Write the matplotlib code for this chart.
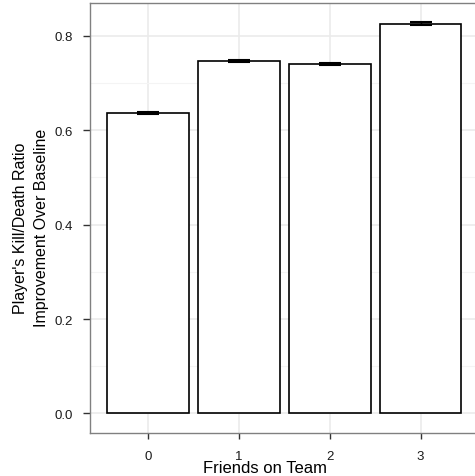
import matplotlib
matplotlib.use("Agg")
import matplotlib.pyplot as plt
import numpy as np

# data
friends = ["0", "1", "2", "3"]
improvement = [0.637, 0.746, 0.739, 0.825]
err = [0.002, 0.002, 0.002, 0.003]

plt.rcParams['font.family'] = ['Liberation Sans', 'DejaVu Sans']

fig = plt.figure(figsize=(4.75, 4.77), dpi=100)
ax = fig.add_axes([0.1895, 0.0901, 0.8125, 0.9015])

x = np.arange(len(friends))
ax.bar(x, improvement, width=0.9, color="white", edgecolor="black", linewidth=1.2, zorder=3)
ax.errorbar(x, improvement, yerr=err, fmt="none", ecolor="black", elinewidth=1,
            capsize=8, capthick=1.5, zorder=4)

ax.set_xlim(-0.64, 3.61)
ax.set_ylim(-0.0414, 0.869)
ax.set_xticks(x)
ax.set_xticklabels(friends)
ax.set_yticks([0.0, 0.2, 0.4, 0.6, 0.8])
ax.set_yticklabels(["0.0", "0.2", "0.4", "0.6", "0.8"])
ax.set_yticks([0.1, 0.3, 0.5, 0.7], minor=True)

ax.grid(True, which="major", color="#ebebeb", linewidth=1.2, zorder=0)
ax.grid(True, which="minor", axis="y", color="#f4f4f4", linewidth=0.8, zorder=0)
ax.set_axisbelow(True)

for s in ["left", "bottom", "top"]:
    ax.spines[s].set_color("#808080")
    ax.spines[s].set_linewidth(1)
ax.spines["right"].set_visible(False)

ax.tick_params(axis="x", length=4.3, width=1, color="#333333", labelsize=9.5,
               labelcolor="#1a1a1a", pad=8)
ax.tick_params(axis="y", length=5, width=1, color="#333333", labelsize=9.5,
               labelcolor="#1a1a1a", pad=7)
ax.tick_params(axis="y", which="minor", length=0)

ax.set_xlabel("Friends on Team", fontsize=12)
ax.xaxis.label.set_va("baseline")
ax.xaxis.set_label_coords(0.453, -0.0907)

ax.set_ylabel("Player's Kill/Death Ratio\nImprovement Over Baseline", fontsize=11.5,
              linespacing=1.45)
ax.yaxis.label.set_va("center")
ax.yaxis.label.set_ha("center")
ax.yaxis.set_label_coords(-0.153, 0.479)

fig.savefig("out.png", dpi=100)
